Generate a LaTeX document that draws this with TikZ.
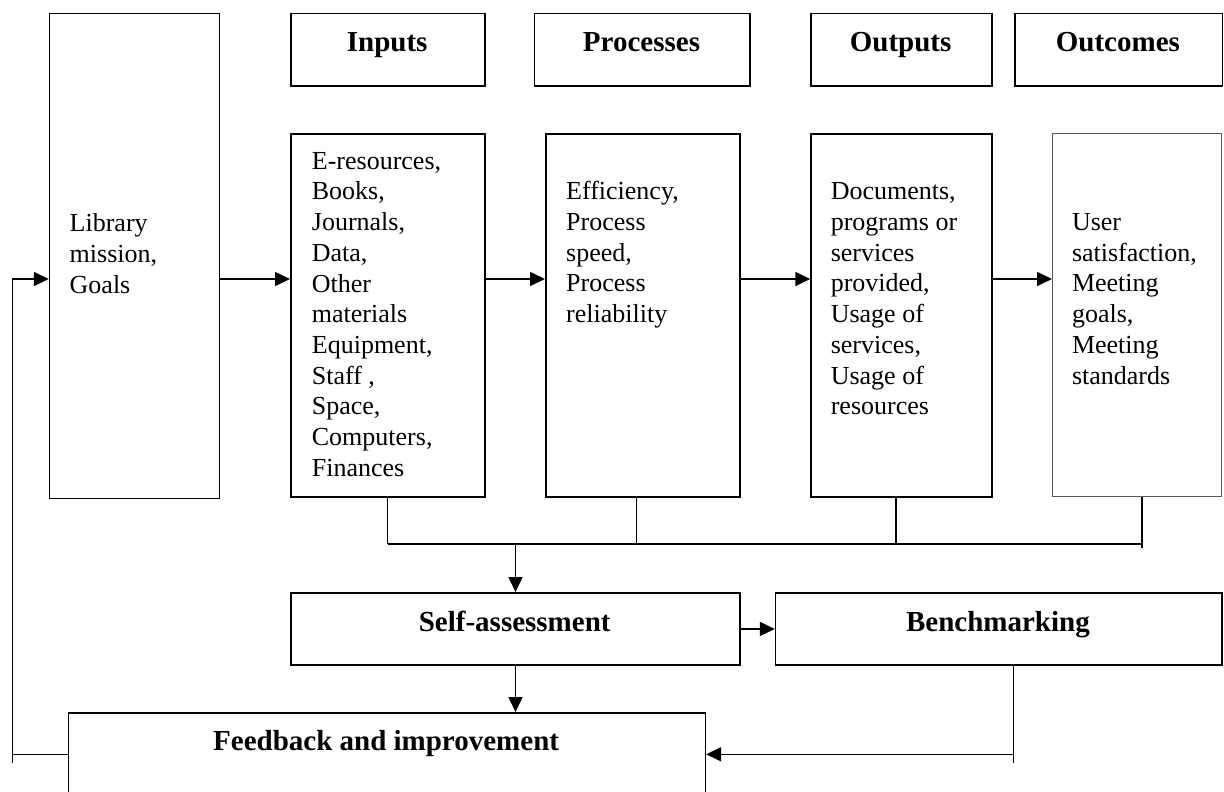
\documentclass[tikz,border=0pt]{standalone}
\usepackage{fontspec}
\setmainfont{Liberation Serif}
\usetikzlibrary{arrows.meta}
\newcommand\tstrut{\rule{0pt}{20pt}}
\begin{document}
\begin{tikzpicture}[x=1pt,y=-1pt,
  box/.style={draw, line width=1.6pt, inner sep=0pt, anchor=north west},
  bodytext/.style={font=\fontsize{26}{30.7}\selectfont, align=left, inner sep=0pt, anchor=north west},
  headtext/.style={font=\fontsize{29}{33}\selectfont\bfseries, inner sep=0pt, anchor=base},
  conn/.style={line width=1.6pt},
  arr/.style={line width=1.6pt, -{Triangle[length=15pt,width=14pt]}}]

\useasboundingbox (0,0) rectangle (1224,792);

% header boxes
\node[box, minimum width=194.4, minimum height=72.6] (hin) at (290,12.7) {};
\node[box, minimum width=215.8, minimum height=72.6] (hpr) at (533.6,12.7) {};
\node[box, minimum width=180.7, minimum height=72.6] (hou) at (810.3,12.7) {};
\node[box, minimum width=207.7, minimum height=72.6] (hoc) at (1014,12.7) {};
\node[headtext] (thin) at (387.2,51.7) {Inputs};
\node[headtext] (thpr) at (641.5,51.7) {Processes};
\node[headtext] (thou) at (900.6,51.7) {Outputs};
\node[headtext] (thoc) at (1117.9,51.7) {Outcomes};

% main boxes
\node[box, minimum width=169.8, minimum height=485, line width=1.3pt] (lib) at (48.8,12.7) {};
\node[box, minimum width=194.4, minimum height=363] (inp) at (290,133) {};
\node[box, minimum width=194.2, minimum height=363] (prc) at (545,133) {};
\node[box, minimum width=181.1, minimum height=363] (out) at (810.3,133) {};
\node[box, minimum width=169, minimum height=363, draw=black!65, line width=1.1pt] (otc) at (1052,133) {};

\node[bodytext] (tlib) at (69.5,211.6) {\tstrut Library\\mission,\\Goals};
\node[bodytext] (tinp) at (311.7,149) {\tstrut E-resources,\\Books,\\Journals,\\Data,\\Other\\materials\\Equipment,\\Staff ,\\Space,\\Computers,\\Finances};
\node[bodytext] (tprc) at (566,179.6) {\tstrut Efficiency,\\Process\\speed,\\Process\\reliability};
\node[bodytext] (tout) at (830.6,179.6) {\tstrut Documents,\\programs or\\services\\provided,\\Usage of\\services,\\Usage of\\resources};
\node[bodytext] (totc) at (1071.8,210.3) {\tstrut User\\satisfaction,\\Meeting\\goals,\\Meeting\\standards};

% assessment boxes
\node[box, minimum width=448.6, minimum height=72.3] (sa) at (290.4,592) {};
\node[box, minimum width=446.2, minimum height=72.3] (bm) at (774.8,592) {};
\node[headtext] (tsa) at (514.7,631.7) {Self-assessment};
\node[headtext] (tbm) at (997.9,631.7) {Benchmarking};

\begin{scope}
\clip (0,0) rectangle (1224,792);
\node[box, minimum width=636.8, minimum height=110] (fb) at (67.7,712) {};
\end{scope}
\node[headtext] (tfb) at (386.1,750) {Feedback and improvement};

% connectors
\coordinate (ay) at (0,279);
\coordinate (fl) at (12.3,763.3);
\coordinate (fy) at (0,754.3);
\draw[arr] (lib.east |- ay) -- (inp.west |- ay);
\draw[arr] (inp.east |- ay) -- (prc.west |- ay);
\draw[arr] (prc.east |- ay) -- (out.west |- ay);
\draw[arr] (out.east |- ay) -- (otc.west |- ay);
\draw[arr] (fl) -- (fl |- ay) -- (lib.west |- ay);
\draw[conn] (fb.west |- fy) -- (fl |- fy);

\coordinate (d1) at (387.6,544);
\coordinate (d2) at (636.6,544);
\coordinate (d3) at (895.8,544);
\coordinate (d4) at (1141.7,544);
\draw[conn] (inp.south -| d1) -- (d1);
\draw[conn] (prc.south -| d2) -- (d2);
\draw[conn] (out.south -| d3) -- (d3);
\draw[conn] (otc.south -| d4) -- ++(0,51);
\draw[conn] (d1) -- (d4);
\draw[arr] (sa.north |- d1) -- (sa.north);
\draw[arr] (sa.south) -- (sa.south |- fb.north);
\draw[arr] (sa.east) -- (bm.west);
\coordinate (bx) at (1013.6,763.3);
\draw[conn] (bm.south -| bx) -- (bx);
\draw[arr] (bx |- fy) -- (fb.east |- fy);
\end{tikzpicture}
\end{document}
